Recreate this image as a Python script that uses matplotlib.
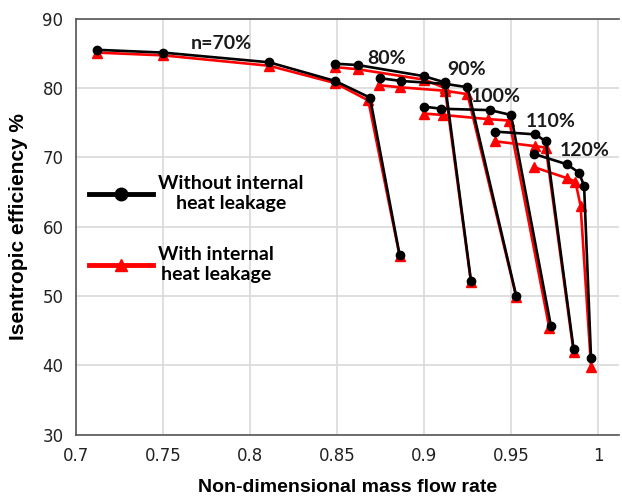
import matplotlib
matplotlib.use("Agg")
import matplotlib.pyplot as plt
from matplotlib.lines import Line2D

# speed lines, without internal heat leakage (black)
speeds = ["n=70%", "80%", "90%", "100%", "110%", "120%"]

x_no = [
    [0.712, 0.750, 0.811, 0.849, 0.869, 0.886],
    [0.849, 0.862, 0.900, 0.912, 0.927],
    [0.875, 0.887, 0.912, 0.925, 0.953],
    [0.900, 0.910, 0.938, 0.950, 0.973],
    [0.941, 0.964, 0.970, 0.986],
    [0.963, 0.982, 0.989, 0.992, 0.996],
]
y_no = [
    [85.5, 85.1, 83.7, 81.0, 78.6, 55.9],
    [83.5, 83.3, 81.7, 80.8, 52.2],
    [81.4, 81.0, 80.6, 80.1, 50.0],
    [77.3, 77.0, 76.8, 76.1, 45.6],
    [73.7, 73.3, 72.3, 42.3],
    [70.5, 69.0, 67.8, 65.9, 41.0],
]

# with internal heat leakage (red)
x_with = [
    [0.712, 0.750, 0.811, 0.849, 0.868, 0.886],
    [0.849, 0.862, 0.900, 0.912, 0.927],
    [0.874, 0.886, 0.912, 0.925, 0.953],
    [0.900, 0.911, 0.937, 0.949, 0.972],
    [0.941, 0.964, 0.970, 0.986],
    [0.963, 0.982, 0.987, 0.990, 0.996],
]
y_with = [
    [85.1, 84.7, 83.2, 80.7, 78.2, 55.8],
    [83.0, 82.7, 81.2, 80.0, 52.0],
    [80.4, 80.1, 79.6, 79.1, 49.9],
    [76.3, 76.1, 75.5, 75.3, 45.4],
    [72.3, 71.6, 71.4, 41.9],
    [68.6, 67.0, 66.5, 63.0, 39.8],
]

label_x = [0.7833, 0.8787, 0.9247, 0.9414, 0.973, 0.9925]
label_y = [86.4, 84.3, 82.6, 78.8, 75.1, 71.0]

fig = plt.figure(figsize=(6.22, 5.03), dpi=100)
ax = fig.add_axes([0.122, 0.136, 0.873, 0.827])

for xs, ys in zip(x_with, y_with):
    ax.plot(xs, ys, color="red", lw=1.9, marker="^", ms=6.5, zorder=3)
for xs, ys in zip(x_no, y_no):
    ax.plot(xs, ys, color="black", lw=1.9, marker="o", ms=6, zorder=4)

for s, lx, ly in zip(speeds, label_x, label_y):
    ax.text(lx, ly, s, ha="center", va="center", fontsize=14,
            fontweight="bold", family="Lato", color="#1a1a1a", zorder=5)

ax.set_xlim(0.7, 1.012)
ax.set_ylim(30, 90)
ax.set_xticks([0.7, 0.75, 0.8, 0.85, 0.9, 0.95, 1.0])
ax.set_xticklabels(["0.7", "0.75", "0.8", "0.85", "0.9", "0.95", "1"])
ax.set_yticks(range(30, 91, 10))
ax.grid(True, color="#d9d9d9", lw=1.2)
ax.set_axisbelow(True)
ax.tick_params(length=0, labelsize=12, colors="#222222", pad=9)
for sp in ["left", "bottom", "top"]:
    ax.spines[sp].set_color("#555555")
    ax.spines[sp].set_linewidth(1.2)
ax.spines["right"].set_visible(False)

ax.set_xlabel("Non-dimensional mass flow rate", fontsize=14, fontweight="bold",
              family="Liberation Sans", labelpad=10)
ax.set_ylabel("Isentropic efficiency %", fontsize=15, fontweight="bold",
              family="Liberation Sans", labelpad=10)

handles = [
    Line2D([], [], color="black", lw=3.5, marker="o", ms=9),
    Line2D([], [], color="red", lw=3.5, marker="^", ms=9),
]
leg = ax.legend(handles, ["Without internal\nheat leakage", "With internal\nheat leakage"],
                loc="upper left", bbox_to_anchor=(-0.008, 0.665), frameon=False,
                prop={"family": "Lato", "weight": "bold", "size": 14},
                handlelength=3.3, labelspacing=1.75, handletextpad=0.25)
for t in leg.get_texts():
    t.set_multialignment("center")

fig.savefig("out.png", dpi=100)
